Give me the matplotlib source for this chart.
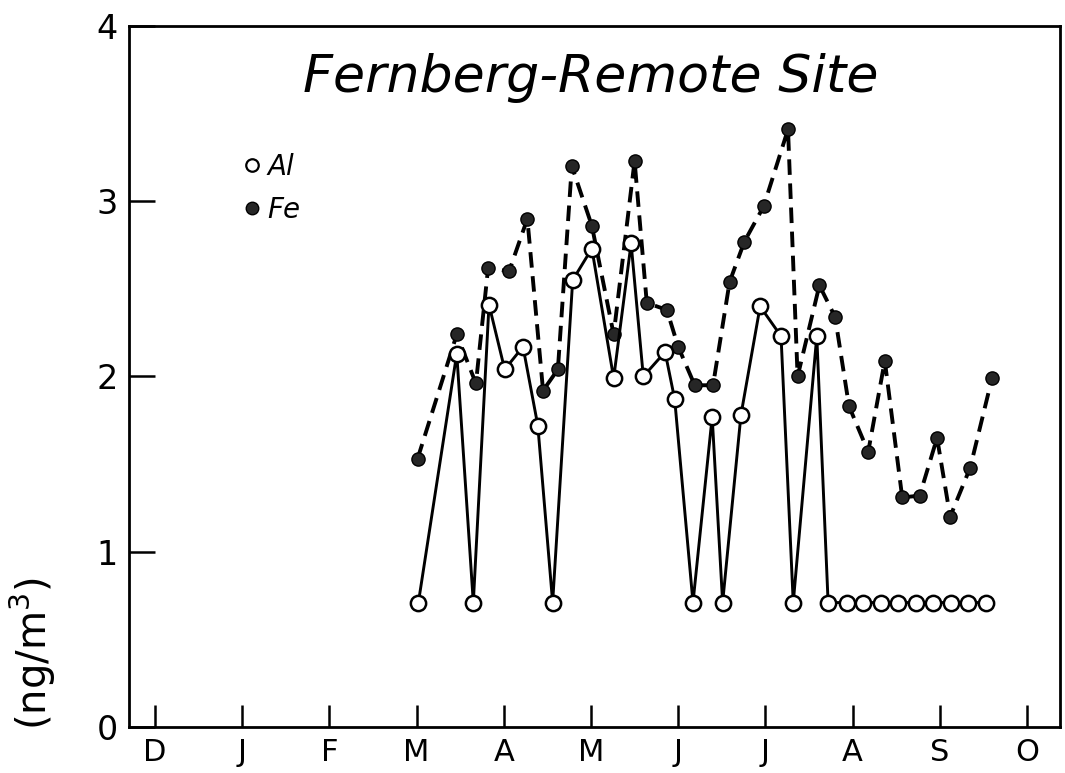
import matplotlib
matplotlib.use("Agg")
import matplotlib.pyplot as plt
from matplotlib.lines import Line2D

# months counted from 1 December, tick at the start of each month
month_labels = ["D", "J", "F", "M", "A", "M", "J", "J", "A", "S", "O"]
month_ticks = list(range(len(month_labels)))

# sampling dates (fractional months since 1 Dec) and concentrations, ng/m3
al_t = [3.02, 3.46, 3.65, 3.83, 4.01, 4.22, 4.39, 4.56, 4.79, 5.01, 5.26,
        5.46, 5.60, 5.85, 5.96, 6.17, 6.39, 6.51, 6.72, 6.94, 7.18, 7.32,
        7.59, 7.72, 7.94, 8.12, 8.33, 8.52, 8.73, 8.92, 9.13, 9.32, 9.53]
al = [0.71, 2.13, 0.71, 2.41, 2.04, 2.17, 1.72, 0.71, 2.55, 2.73, 1.99,
      2.76, 2.00, 2.14, 1.87, 0.71, 1.77, 0.71, 1.78, 2.40, 2.23, 0.71,
      2.23, 0.71, 0.71, 0.71, 0.71, 0.71, 0.71, 0.71, 0.71, 0.71, 0.71]

fe_t = [3.01, 3.46, 3.68, 3.82, 4.06, 4.27, 4.45, 4.62, 4.78, 5.01, 5.26,
        5.50, 5.64, 5.87, 6.00, 6.19, 6.40, 6.59, 6.76, 6.98, 7.26, 7.37,
        7.62, 7.80, 7.96, 8.18, 8.37, 8.57, 8.77, 8.97, 9.12, 9.35, 9.60]
fe = [1.53, 2.24, 1.96, 2.62, 2.60, 2.90, 1.92, 2.04, 3.20, 2.86, 2.24,
      3.23, 2.42, 2.38, 2.17, 1.95, 1.95, 2.54, 2.77, 2.97, 3.41, 2.00,
      2.52, 2.34, 1.83, 1.57, 2.09, 1.31, 1.32, 1.65, 1.20, 1.48, 1.99]

plt.rcParams['font.family'] = ['DejaVu Sans']

fig = plt.figure(figsize=(10.65, 7.73), dpi=100)
ax = fig.add_axes([0.1211, 0.0595, 0.8742, 0.9069])

# iron: dashed line, filled dots
ax.plot(fe_t, fe, color='black', lw=2.8, dashes=(4, 2.2),
        marker='o', ms=9.5, mfc='#262626', mec='black', mew=1.0, zorder=2)
# aluminium: solid line, open circles
ax.plot(al_t, al, color='black', lw=2.1, marker='o', ms=11,
        mfc='white', mec='black', mew=1.8, zorder=3)

ax.set_xlim(-0.30, 10.38)
ax.set_ylim(0, 4)
ax.set_xticks(month_ticks)
ax.set_xticklabels(month_labels)
ax.set_yticks([0, 1, 2, 3, 4])
ax.set_yticklabels(['0', '1', '2', '3', '4'])
ax.tick_params(axis='x', direction='in', length=16, width=1.8, pad=8,
               labelsize=22)
ax.tick_params(axis='y', direction='in', length=19, width=1.8, pad=8,
               labelsize=24)
for s in ax.spines.values():
    s.set_linewidth(2.0)

ax.text(0.496, 0.926, "Fernberg-Remote Site", transform=ax.transAxes,
        ha='center', va='center', fontsize=37.5, style='italic')

handles = [
    Line2D([], [], ls='none', marker='o', ms=9, mfc='white', mec='black',
           mew=1.6),
    Line2D([], [], ls='none', marker='o', ms=9, mfc='#262626', mec='black'),
]
ax.legend(handles, ['Al', 'Fe'], loc='upper left',
          bbox_to_anchor=(0.098, 0.855), frameon=False, handlelength=0.5,
          handletextpad=0.3, labelspacing=0.55,
          prop={'size': 20, 'style': 'italic'})

fig.text(33 / 1065, 1 - 653 / 773, "(ng/m$^3$)", rotation=90,
         ha='center', va='center', fontsize=29)

fig.savefig("out.png", dpi=100)
